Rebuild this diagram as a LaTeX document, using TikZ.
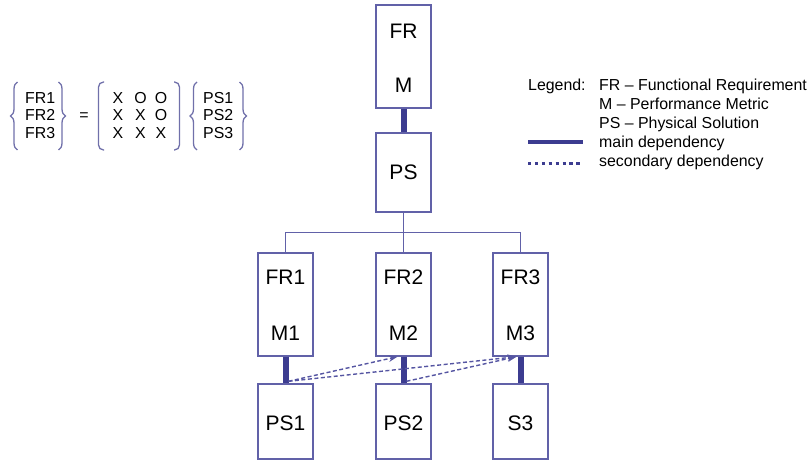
\documentclass[tikz,border=0pt]{standalone}
\usepackage{fontspec}
\setmainfont{Liberation Sans}
\usetikzlibrary{arrows.meta,decorations.pathreplacing}
\definecolor{boxc}{HTML}{6161A8}
\definecolor{darkc}{HTML}{3C3C90}
\definecolor{dashc}{HTML}{5555A2}
\definecolor{brc}{HTML}{7070AA}
\tikzset{
  blk/.style={draw=boxc,line width=1.4pt,minimum width=55pt,inner sep=0pt,fill=white},
  tall/.style={blk,minimum height=103pt},
  big/.style={font=\fontsize{21}{25}\selectfont,anchor=base,inner sep=0pt},
  small/.style={font=\fontsize{15.9}{18}\selectfont,anchor=base west,inner sep=0pt},
  smallc/.style={font=\fontsize{15.9}{18}\selectfont,anchor=base,inner sep=0pt},
  mainl/.style={draw=darkc,line width=6pt},
  secl/.style={draw=dashc,line width=1.4pt,dash pattern=on 4pt off 2.5pt,-{Stealth[length=9pt,width=6.5pt]}},
  tree/.style={draw=boxc,line width=1.4pt},
  brc/.style={draw=brc,line width=1.3pt,decorate,decoration={brace,amplitude=7pt}},
  brk/.style={draw=brc,line width=1.3pt,rounded corners=5pt},
}
\begin{document}
\begin{tikzpicture}[x=1pt,y=-1pt]
\useasboundingbox (0,0) rectangle (811,462);
% top
\node[tall] (top) at (403.5,56.5) {};
\node[big] (tFR) at (403.5,38.3) {FR};
\node[big] (tM) at (403.5,92.7) {M};
\node[blk,minimum height=79pt] (ps) at (403.5,172.5) {};
\node[big] (tPS) at (403.5,180) {PS};
% second level
\node[tall] (fr1) at (285.5,304.5) {};
\node[tall] (fr2) at (403.5,304.5) {};
\node[tall] (fr3) at (520.5,304.5) {};
\node[big] (lfr1) at (285.5,285) {FR1};
\node[big] (lfr2) at (403.5,285) {FR2};
\node[big] (lfr3) at (520.5,285) {FR3};
\node[big] (lm1) at (285.5,340.7) {M1};
\node[big] (lm2) at (403.5,340.7) {M2};
\node[big] (lm3) at (520.5,340.7) {M3};
% bottom
\node[blk,minimum height=75pt] (ps1) at (285.5,421.5) {};
\node[blk,minimum height=75pt] (ps2) at (403.5,421.5) {};
\node[blk,minimum height=75pt] (s3) at (520.5,421.5) {};
\node[big] (lps1) at (285.5,430) {PS1};
\node[big] (lps2) at (403.5,430) {PS2};
\node[big] (ls3) at (520.5,430) {S3};
% tree
\coordinate (bus) at (403.5,232.5);
\draw[tree] (ps.south) -- (fr2.north);
\draw[tree] (fr1.north) |- (bus) -| (fr3.north);
% main dependencies
\draw[mainl] (top.south) -- (ps.north);
\draw[mainl] (fr1.south) -- (ps1.north);
\draw[mainl] (fr2.south) -- (ps2.north);
\draw[mainl] (fr3.south) -- (s3.north);
% secondary
\draw[secl] ([xshift=3pt,yshift=2pt]ps1.north) -- ([xshift=-6pt]fr2.south);
\draw[secl] ([xshift=3pt,yshift=2pt]ps1.north) -- ([xshift=-4pt]fr3.south);
\draw[secl] ([xshift=3pt,yshift=2pt]ps2.north) -- ([xshift=-4pt]fr3.south);
% matrix equation
\node[small] (m1) at (25,104) {FR1};
\node[small] (m2) at (25,121) {FR2};
\node[small] (m3) at (25,138.5) {FR3};
\node[smallc] (eq) at (84,121) {=};
\node[smallc] (a11) at (118,104) {X};
\node[smallc] (a12) at (140.5,104) {O};
\node[smallc] (a13) at (161,104) {O};
\node[smallc] (a21) at (118,121) {X};
\node[smallc] (a22) at (140.5,121) {X};
\node[smallc] (a23) at (161,121) {O};
\node[smallc] (a31) at (118,138.5) {X};
\node[smallc] (a32) at (140.5,138.5) {X};
\node[smallc] (a33) at (161,138.5) {X};
\node[small] (p1) at (203,104) {PS1};
\node[small] (p2) at (203,121) {PS2};
\node[small] (p3) at (203,138.5) {PS3};
\draw[brc] (17.5,150) -- (17.5,82);
\draw[brc] (58.5,82) -- (58.5,150);
\draw[brc] (197,150) -- (197,82);
\draw[brc] (239.5,82) -- (239.5,150);
\draw[brk] (104,82) -- (98.5,82) -- (98.5,150) -- (104,150);
\draw[brk] (174,82) -- (179.5,82) -- (179.5,150) -- (174,150);
% legend
\node[small] (lg) at (528,91) {Legend:};
\node[small] (lg1) at (599,91) {FR – Functional Requirement};
\node[small] (lg2) at (599,109.5) {M – Performance Metric};
\node[small] (lg3) at (599,129) {PS – Physical Solution};
\node[small] (lg4) at (599,148) {main dependency};
\node[small] (lg5) at (599,167) {secondary dependency};
\coordinate (la) at (528,142);
\coordinate (lb) at (583,142);
\coordinate (lc) at (528,163.3);
\coordinate (ld) at (583,163.3);
\draw[draw=darkc,line width=3.5pt] (la) -- (lb);
\draw[draw=darkc,line width=3.3pt,dash pattern=on 3.3pt off 3.6pt] (lc) -- (ld);
\end{tikzpicture}
\end{document}
